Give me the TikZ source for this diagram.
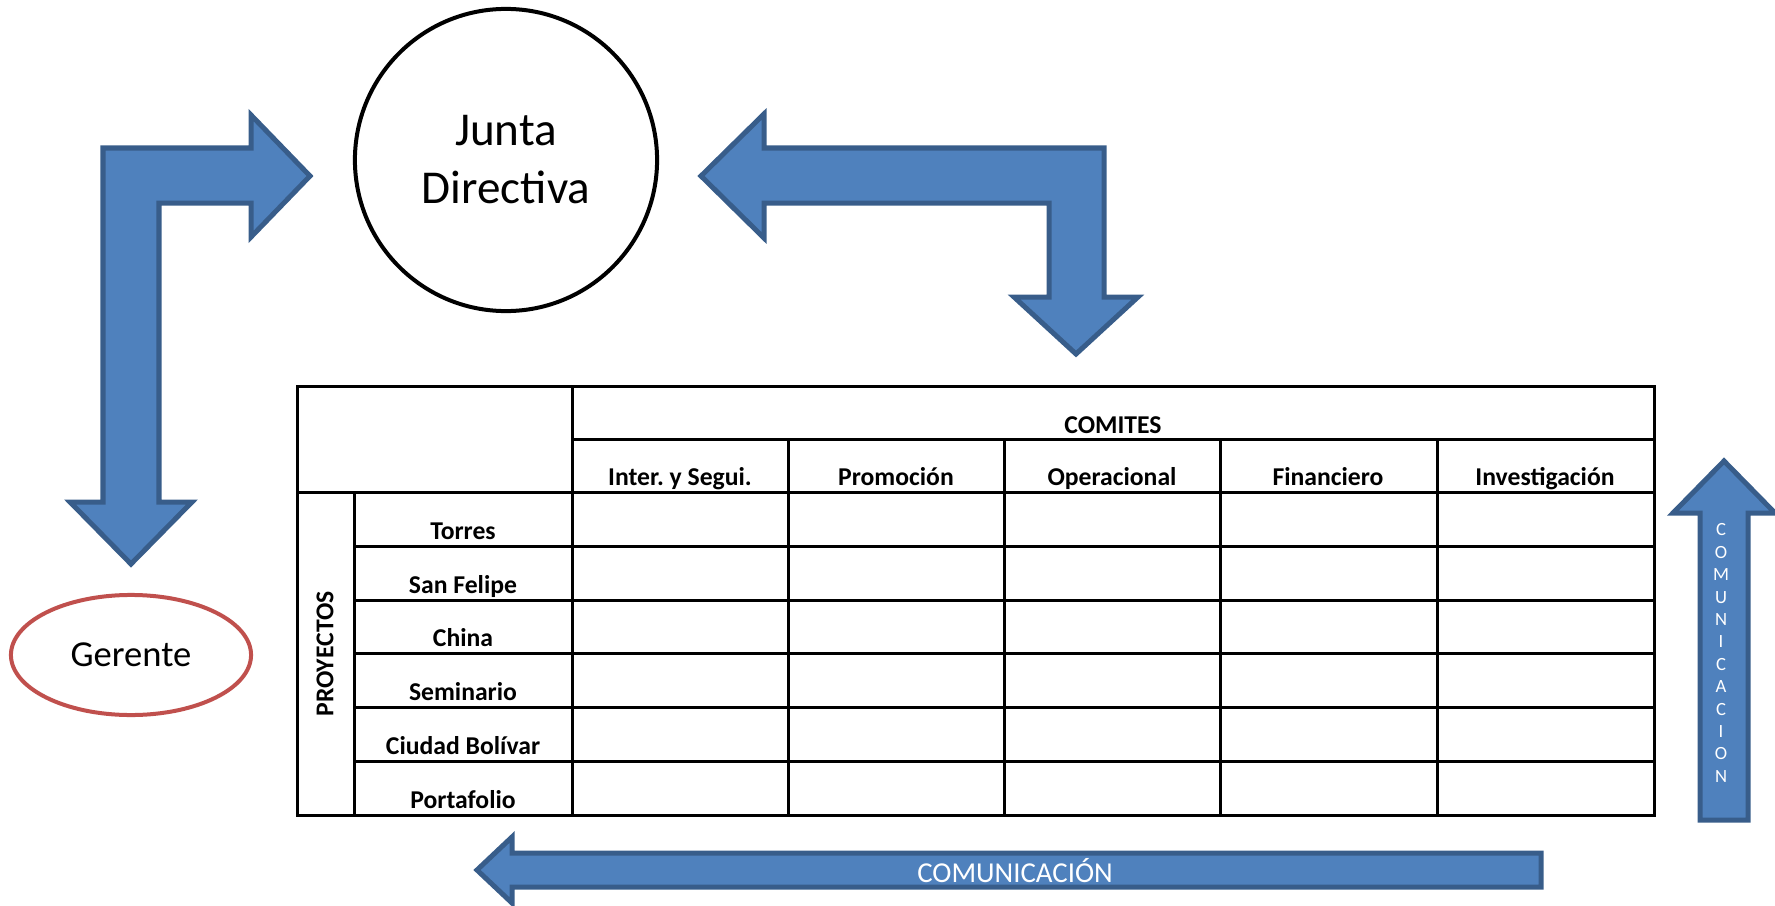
\documentclass[tikz,border=0pt]{standalone}
\usepackage{fontspec}
\setmainfont{Carlito}
\usepackage{tikz}
\usetikzlibrary{shapes.geometric}
\definecolor{arrowfill}{HTML}{4F81BD}
\definecolor{arrowline}{HTML}{385D8A}
\definecolor{gerentered}{HTML}{C0504D}
\frenchspacing

\begin{document}
\begin{tikzpicture}[x=0.01cm, y=-0.01cm,
    blockarrow/.style={fill=arrowfill, draw=arrowline, line width=0.05cm, line join=miter},
    tableline/.style={line width=0.03cm},
    cell/.style={anchor=base, inner sep=0pt, font=\fontsize{7.3}{8}\selectfont\bfseries}]
  \useasboundingbox (0,0) rectangle (1775,906);

  \node[circle, draw, line width=0.04cm, minimum size=3.02cm, align=center,
    font=\fontsize{13.4}{16.5}\selectfont] (junta) at (506,160) {Junta\\Directiva};
  \node[ellipse, draw=gerentered, line width=0.04cm, minimum width=2.4cm, minimum height=1.2cm,
    font=\fontsize{10.4}{12}\selectfont] (gerente) at (131,655) {Gerente};

  \draw[blockarrow] (103,502) -- (103,148) -- (251,148) -- (251,115) -- (310,176)
    -- (251,237) -- (251,203) -- (159,203) -- (159,502) -- (192,502) -- (131,564)
    -- (70,502) -- cycle;
  \draw[blockarrow] (701,176) -- (764,114) -- (764,148) -- (1104,148) -- (1104,297)
    -- (1138,297) -- (1076,354) -- (1014,297) -- (1049,297) -- (1049,203)
    -- (764,203) -- (764,238) -- cycle;
  \draw[blockarrow] (1700,820) -- (1700,513) -- (1673,513) -- (1724,461) -- (1775,513)
    -- (1748,513) -- (1748,820) -- cycle;
  \draw[blockarrow] (1541,853) -- (512,853) -- (512,837) -- (477,870) -- (512,903)
    -- (512,887) -- (1541,887) -- cycle;

  \node[text=white, align=center, inner sep=0pt, font=\fontsize{5.3}{6.37}\selectfont]
    (comv) at (1721,653) {C\\O\\M\\U\\N\\I\\C\\A\\C\\I\\O\\N};
  \node[text=white, inner sep=0pt, font=\fontsize{8.2}{10}\selectfont]
    (comh) at (1015,871) {COMUNICACIÓN};

  \draw[tableline] (297,386) rectangle (1654,815);
  \draw[tableline] (572,439) -- (1654,439);
  \draw[tableline] (297,492) -- (1654,492);
  \foreach \y in {546,600,653,707,761}
    \draw[tableline] (354,\y) -- (1654,\y);
  \draw[tableline] (354,492) -- (354,815);
  \draw[tableline] (572,386) -- (572,815);
  \foreach \x in {788,1004,1220,1437}
    \draw[tableline] (\x,439) -- (\x,815);

  \node[cell] (comites) at (1113,433) {COMITES};
  \foreach \x/\name [count=\i] in {680/Inter. y Segui., 896/Promoción, 1112/Operacional,
      1328/Financiero, 1545/Investigación}
    \node[cell] (col\i) at (\x,485) {\name};
  \foreach \y/\name [count=\i] in {539/Torres, 593/San Felipe, 646/China, 700/Seminario,
      754/Ciudad Bolívar, 808/Portafolio}
    \node[cell] (row\i) at (463,\y) {\name};
  \node[cell, anchor=center, rotate=90] (proyectos) at (325,654) {PROYECTOS};
\end{tikzpicture}
\end{document}
